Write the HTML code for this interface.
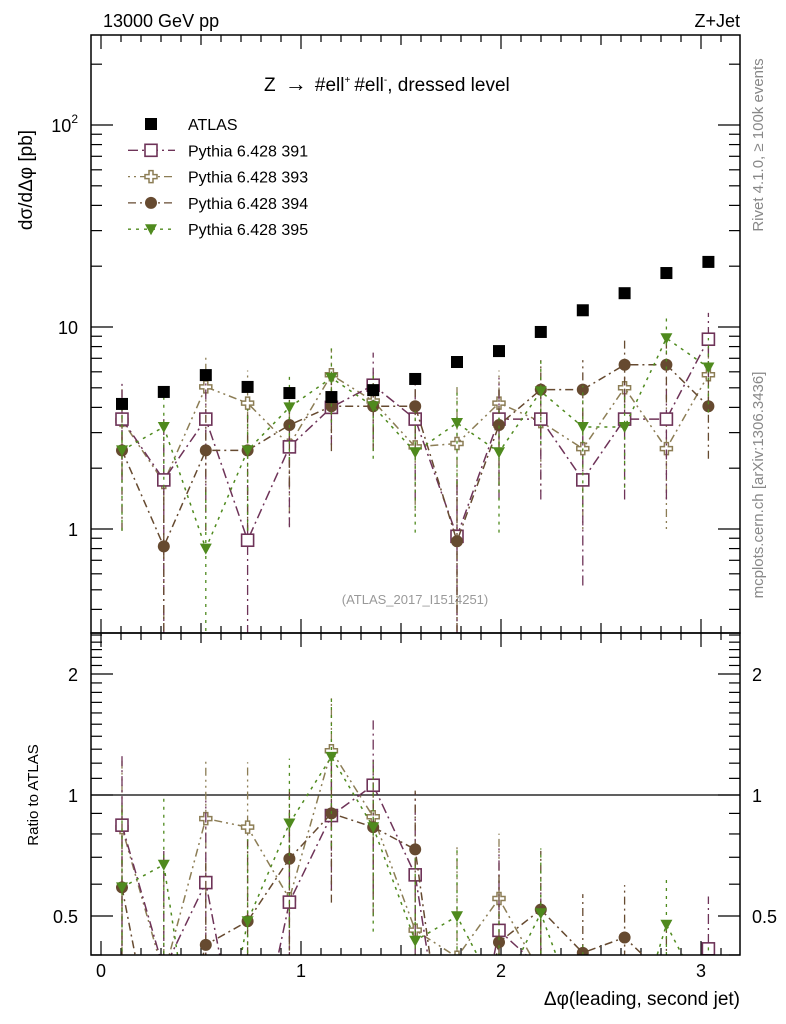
<!DOCTYPE html>
<html><head><meta charset="utf-8">
<style>
html,body{margin:0;padding:0;background:#fff;width:786px;height:1024px;overflow:hidden;}
svg{display:block;font-family:"Liberation Sans",Arial,sans-serif;}
</style></head>
<body>
<svg id="chart" width="786" height="1024" viewBox="0 0 786 1024" xmlns="http://www.w3.org/2000/svg">
<text x="103" y="27" font-size="18">13000 GeV pp</text>
<text x="740" y="27" font-size="18" text-anchor="end">Z+Jet</text>
<text transform="translate(763,145) rotate(-90)" font-size="15" fill="#888" text-anchor="middle">Rivet 4.1.0, ≥ 100k events</text>
<text transform="translate(763,485) rotate(-90)" font-size="15" fill="#888" text-anchor="middle">mcplots.cern.ch [arXiv:1306.3436]</text>
<text transform="translate(32,180) rotate(-90)" font-size="19" text-anchor="middle">dσ/dΔφ [pb]</text>
<text transform="translate(38,795) rotate(-90)" font-size="15" text-anchor="middle">Ratio to ATLAS</text>
<text x="740" y="1005" font-size="19" text-anchor="end">Δφ(leading, second jet)</text>
<text x="264" y="91" font-size="19">Z <tspan dx="4" font-size="22">→</tspan><tspan dx="8">#ell</tspan><tspan font-size="10" dy="-8">+</tspan><tspan dy="8" dx="4">#ell</tspan><tspan font-size="10" dy="-8">-</tspan><tspan dy="8">, dressed level</tspan></text>
<text x="415" y="604" font-size="13" fill="#999" text-anchor="middle">(ATLAS_2017_I1514251)</text>
<g id="plot"></g>
<rect x="91" y="35" width="649" height="598" fill="none" stroke="#000" stroke-width="1.5"/>
<rect x="91" y="633" width="649" height="322" fill="none" stroke="#000" stroke-width="1.5"/>
</svg>
<script>
const binCenters=[0.105,0.314,0.524,0.733,0.942,1.152,1.361,1.571,1.780,1.990,2.199,2.409,2.618,2.827,3.037];
const atlas=[4.16,4.77,5.78,5.05,4.71,4.50,4.87,5.53,6.71,7.6,9.45,12.1,14.7,18.5,21.0];
const py391=[3.5,1.75,3.5,0.88,2.55,4.0,5.15,3.5,0.92,3.5,3.5,1.75,3.5,3.5,8.7];
const py393=[3.45,1.7,5.05,4.2,2.6,5.8,4.3,2.55,2.65,4.2,3.4,2.5,5.0,2.5,5.8];
const py394=[2.45,0.82,2.45,2.45,3.27,4.05,4.05,4.05,0.87,3.27,4.9,4.9,6.5,6.5,4.05];
const py395=[2.45,3.2,0.8,2.45,4.0,5.6,4.05,2.4,3.35,2.4,4.8,3.2,3.2,8.8,6.3];
const err391=[0.5,1.0,0.6,1.0,0.6,0.35,0.45,0.6,1.0,0.6,0.6,0.7,0.6,0.6,0.35];
const err393=[0.5,1.0,0.4,0.45,0.6,0.35,0.4,0.55,0.9,0.45,0.55,0.6,0.4,0.6,0.35];
const err394=[0.6,1.0,0.6,0.6,0.5,0.4,0.4,0.4,1.0,0.5,0.4,0.4,0.35,0.35,0.45];
const err395=[0.6,0.5,1.0,0.6,0.45,0.4,0.45,0.6,0.5,0.6,0.45,0.6,0.5,0.3,0.4];
const xTicks=[0,1,2,3];
const NS="http://www.w3.org/2000/svg";
const g=document.getElementById('plot');
const X=v=>101+200*v;
const Ym=v=>327-202*Math.log10(v/10);
const Yr=v=>795-402*Math.log10(v);
function mk(t,a){const e=document.createElementNS(NS,t);for(const k in a)e.setAttribute(k,a[k]);g.appendChild(e);return e;}
const defs=mk('defs',{});
defs.innerHTML='<clipPath id="cm"><rect x="91" y="35" width="649" height="598"/></clipPath><clipPath id="cr"><rect x="91" y="633" width="649" height="322"/></clipPath>';
for(let i=0;i<=32;i++){const v=i*0.1;const x=X(v);if(x>740)break;const L=(i%10==0)?14:(i%5==0?10:7);
 for(const [yb,yt] of [[633,35],[955,633]]){
  let t=mk('line',{x1:x,x2:x,y1:yb,y2:yb-L,stroke:'#000','stroke-width':1.2});
  
  t=mk('line',{x1:x,x2:x,y1:yt,y2:yt+L,stroke:'#000','stroke-width':1.2});
  }}
xTicks.forEach(v=>{const t=mk('text',{x:X(v),y:977,'font-size':18,'text-anchor':'middle'});t.textContent=v;
 });
for(let d=-1;d<=2;d++)for(let m=1;m<=9;m++){const v=m*Math.pow(10,d);const y=Ym(v);if(y<35||y>633)continue;const L=m==1?22:11;
 let t=mk('line',{x1:91,x2:91+L,y1:y,y2:y,stroke:'#000','stroke-width':1.2});
 t=mk('line',{x1:740,x2:740-L,y1:y,y2:y,stroke:'#000','stroke-width':1.2});}
[[1,'1'],[10,'10']].forEach(([v,s])=>{const t=mk('text',{x:78,y:Ym(v)+7,'font-size':18,'text-anchor':'end'});t.textContent=s;
 });
{const t=mk('text',{x:78,y:Ym(100)+7,'font-size':18,'text-anchor':'end'});t.innerHTML='10<tspan font-size="12" dy="-9">2</tspan>';
 }
for(let k=4;k<=25;k++){const v=k/10;const y=Yr(v);if(y<633||y>955)continue;const big=(k==5||k==10||k==20);const L=big?22:11;
 let t=mk('line',{x1:91,x2:91+L,y1:y,y2:y,stroke:'#000','stroke-width':1.2});
 t=mk('line',{x1:740,x2:740-L,y1:y,y2:y,stroke:'#000','stroke-width':1.2});}
[[0.5,'0.5'],[1,'1'],[2,'2']].forEach(([v,s])=>{let t=mk('text',{x:78,y:Yr(v)+7,'font-size':18,'text-anchor':'end'});t.textContent=s;
 
 t=mk('text',{x:752,y:Yr(v)+7,'font-size':18});t.textContent=s;
 });
{const t=mk('line',{x1:91,x2:740,y1:Yr(1),y2:Yr(1),stroke:'#000','stroke-width':1.3});}
function marker(par,type,x,y,c){let e;
 if(type=='sq'){e=document.createElementNS(NS,'rect');e.setAttribute('x',x-6);e.setAttribute('y',y-6);e.setAttribute('width',12);e.setAttribute('height',12);e.setAttribute('fill','#fff');e.setAttribute('stroke',c);e.setAttribute('stroke-width',1.6);}
 else if(type=='fsq'){e=document.createElementNS(NS,'rect');e.setAttribute('x',x-6);e.setAttribute('y',y-6);e.setAttribute('width',12);e.setAttribute('height',12);e.setAttribute('fill','#000');}
 else if(type=='cross'){e=document.createElementNS(NS,'path');e.setAttribute('d',`M${x-2},${y-6}h4v4h4v4h-4v4h-4v-4h-4v-4h4z`);e.setAttribute('fill','#fff');e.setAttribute('stroke',c);e.setAttribute('stroke-width',1.5);}
 else if(type=='circ'){e=document.createElementNS(NS,'circle');e.setAttribute('cx',x);e.setAttribute('cy',y);e.setAttribute('r',6);e.setAttribute('fill',c);}
 else {e=document.createElementNS(NS,'path');e.setAttribute('d',`M${x-6},${y-5}L${x+6},${y-5}L${x},${y+6}z`);e.setAttribute('fill',c);}
 par.appendChild(e);return e;}
const series=[
 {name:'393',vals:py393,err:err393,c:'#8c7d55',m:'cross',dash:'2,4,2,4,8,4'},
 {name:'391',vals:py391,err:err391,c:'#6e3358',m:'sq',dash:'10,4,2,4'},
 {name:'394',vals:py394,err:err394,c:'#664a30',m:'circ',dash:'8,4,2,4'},
 {name:'395',vals:py395,err:err395,c:'#4f8a1e',m:'tri',dash:'3,5,3,5'}];
const gm=mk('g',{'clip-path':'url(#cm)'});
const gr=mk('g',{'clip-path':'url(#cr)'});
function add(par,t,a){const e=document.createElementNS(NS,t);for(const k in a)e.setAttribute(k,a[k]);par.appendChild(e);return e;}
series.forEach(s=>{
 const sg=add(gm,'g',{});
 const rg=add(gr,'g',{});
 const pm=binCenters.map((x,i)=>X(x)+','+Ym(s.vals[i])).join(' ');
 let l=add(sg,'polyline',{points:pm,fill:'none',stroke:s.c,'stroke-width':1.5,'stroke-dasharray':s.dash});
 const pr=binCenters.map((x,i)=>X(x)+','+Yr(s.vals[i]/atlas[i])).join(' ');
 l=add(rg,'polyline',{points:pr,fill:'none',stroke:s.c,'stroke-width':1.5,'stroke-dasharray':s.dash});
 binCenters.forEach((x,i)=>{const v=s.vals[i],e=s.err[i]*v;const lo=Math.max(v-e,1e-3),hi=v+e;
  let b=add(sg,'line',{x1:X(x),x2:X(x),y1:Ym(lo),y2:Ym(hi),stroke:s.c,'stroke-width':1.3,'stroke-dasharray':s.dash});
  const r=v/atlas[i],re=e/atlas[i];
  b=add(rg,'line',{x1:X(x),x2:X(x),y1:Yr(Math.max(r-re,1e-3)),y2:Yr(r+re),stroke:s.c,'stroke-width':1.3,'stroke-dasharray':s.dash});
  let m=marker(sg,s.m,X(x),Ym(v),s.c);
  m=marker(rg,s.m,X(x),Yr(r),s.c);
 });
});
binCenters.forEach((x,i)=>{const m=marker(gm,'fsq',X(x),Ym(atlas[i]),'#000');});
const lg=mk('g',{});
const legRows=[['ATLAS',null],['Pythia 6.428 391',series[1]],['Pythia 6.428 393',series[0]],['Pythia 6.428 394',series[2]],['Pythia 6.428 395',series[3]]];
legRows.forEach((r,i)=>{const y=124+i*26.3;const e=add(lg,'g',{});
 if(r[1]){add(e,'line',{x1:128,x2:175,y1:y,y2:y,stroke:r[1].c,'stroke-width':1.3,'stroke-dasharray':r[1].dash});marker(e,r[1].m,151,y,r[1].c);}
 else marker(e,'fsq',151,y,'#000');
 const t=add(e,'text',{x:188,y:y+6,'font-size':16});t.textContent=r[0];});
</script>
</body></html>
